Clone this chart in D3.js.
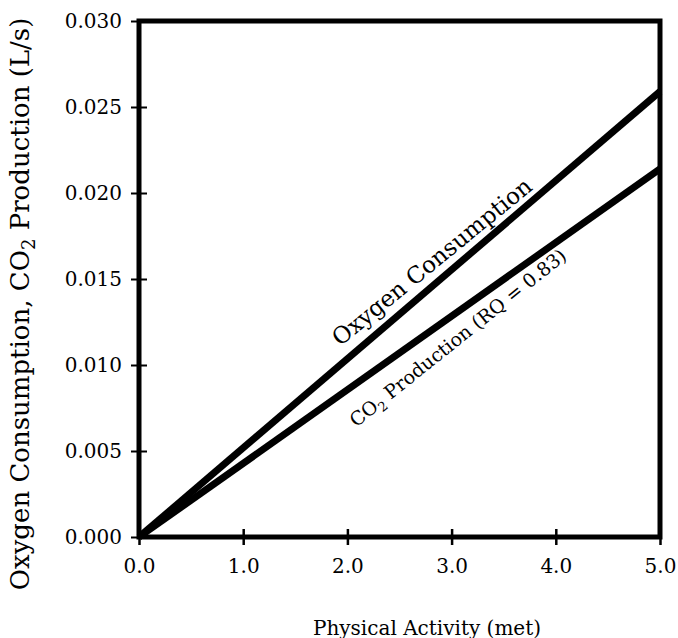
<!DOCTYPE html>
<html>
<head>
<meta charset="utf-8">
<script src="https://cdn.jsdelivr.net/npm/d3@7"></script>
<style>
  body { margin: 0; background: #fff; }
  text { font-family: "DejaVu Serif", serif; fill: #000; }
</style>
</head>
<body>
<div id="viz"></div>
<script>
// values
var activity = [0, 5];                 // met
var o2Rate   = [0, 0.0259];            // L/s
var co2Rate  = [0, 0.0214];            // L/s, RQ = 0.83
var xTicks   = [0, 1, 2, 3, 4, 5];
var yTicks   = [0, 0.005, 0.010, 0.015, 0.020, 0.025, 0.030];

var width = 678,
    height = 638,
    plotL = 139, plotR = 660, plotT = 21, plotB = 537;

var svg = d3.select("#viz").append("svg")
    .attr("width", width)
    .attr("height", height);

var x = d3.scaleLinear().domain([0, 5]).range([plotL, plotR]);
var y = d3.scaleLinear().domain([0, 0.030]).range([plotB, plotT]);

var series = [
  { name: "o2",  vals: o2Rate },
  { name: "co2", vals: co2Rate }
];

var line = d3.line()
    .x(function(d) { return x(d[0]); })
    .y(function(d) { return y(d[1]); });

svg.selectAll("path.series")
    .data(series)
    .enter()
    .append("path")
    .attr("class", "series")
    .attr("d", function(d) { return line(d3.zip(activity, d.vals)); })
    .style("fill", "none")
    .style("stroke", "#000")
    .style("stroke-width", 7);

// frame
svg.append("rect")
    .attr("x", plotL).attr("y", plotT)
    .attr("width", plotR - plotL).attr("height", plotB - plotT)
    .style("fill", "none")
    .style("stroke", "#000")
    .style("stroke-width", 5);

// axes: crossing ticks, no domain line (frame does that)
var xAxis = svg.append("g")
    .attr("transform", "translate(0," + plotB + ")")
    .call(d3.axisBottom(x).tickValues(xTicks).tickFormat(d3.format(".1f")).tickSize(8).tickPadding(14));
var yAxis = svg.append("g")
    .attr("transform", "translate(" + plotL + ",0)")
    .call(d3.axisLeft(y).tickValues(yTicks).tickFormat(d3.format(".3f")).tickSize(8).tickPadding(9));

[xAxis, yAxis].forEach(function(g) {
  g.select(".domain").remove();
  g.selectAll("text").style("font-size", "20px").style("font-family", "DejaVu Serif, serif");
});
xAxis.selectAll(".tick line").attr("y1", -8).style("stroke-width", 2.5);
yAxis.selectAll(".tick line").attr("x1", 8).style("stroke-width", 2);
xAxis.selectAll(".tick text").attr("dy", "0.71em");

// line labels
var labels = [
  { parts: [["Oxygen Consumption", false]], met: 2.81, vals: o2Rate, dy: -25, angle: -39.2, size: 23 },
  { parts: [["CO", false], ["2", true], [" Production (RQ = 0.83)", false]], met: 3.06, vals: co2Rate, dy: 26, angle: -38.7, size: 19 }
];

labels.forEach(function(d) {
  var px = x(d.met), py = y(d.vals[1] * d.met / activity[1]) + d.dy;
  var t = svg.append("text")
      .attr("transform", "translate(" + px + "," + py + ") rotate(" + d.angle + ")")
      .attr("text-anchor", "middle")
      .attr("dy", "0.35em")
      .style("font-size", d.size + "px");
  addParts(t, d.parts, Math.round(d.size * 0.7));
});

function addParts(t, parts, subSize) {
  parts.forEach(function(p, i) {
    var s = t.append("tspan").text(p[0]);
    if (p[1]) s.style("font-size", subSize + "px").attr("dy", subSize * 0.35);
    else if (i > 0) s.attr("dy", -subSize * 0.35);
  });
}

// axis titles
svg.append("text")
    .attr("x", 427).attr("y", 635)
    .attr("text-anchor", "middle")
    .style("font-size", "20px")
    .text("Physical Activity (met)");

var yt = svg.append("text")
    .attr("transform", "translate(29,304) rotate(-90)")
    .attr("text-anchor", "middle")
    .style("font-size", "26px");
addParts(yt, [["Oxygen Consumption, CO", false], ["2", true], [" Production (L/s)", false]], 18);
</script>
</body>
</html>
